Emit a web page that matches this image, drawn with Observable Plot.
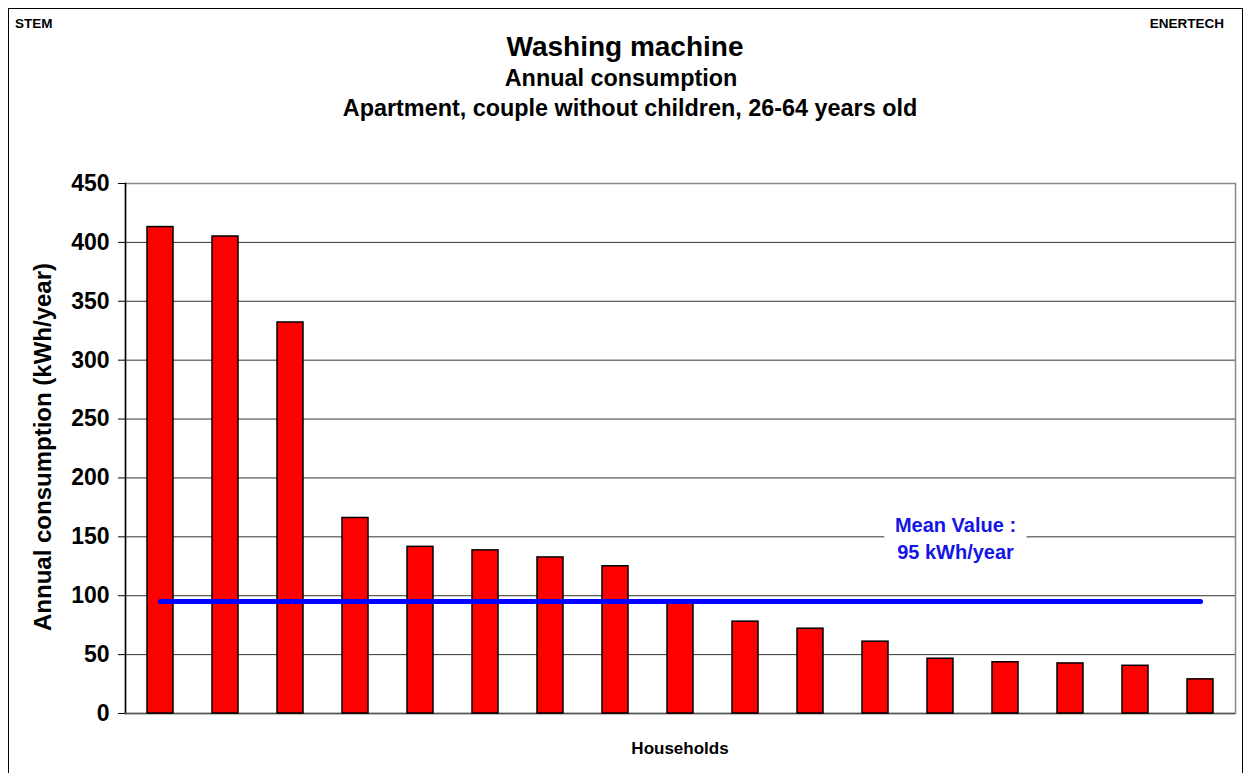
<!DOCTYPE html>
<html>
<head>
<meta charset="utf-8">
<script src="https://cdn.jsdelivr.net/npm/d3@7"></script>
<script src="https://cdn.jsdelivr.net/npm/@observablehq/plot@0.6"></script>
<style>
  html, body { margin: 0; padding: 0; background: #fff; }
  #wrap { position: relative; width: 1245px; height: 773px; overflow: hidden; font-family: "Liberation Sans", Arial, sans-serif; font-weight: bold; color: #000; }
  #outer { position: absolute; left: 8px; top: 8px; width: 1235px; height: 800px; border: 1.5px solid #000; box-sizing: border-box; }
  .t { position: absolute; white-space: nowrap; transform: translate(-50%, -50%); }
  #chart { position: absolute; left: 0; top: 0; }
</style>
</head>
<body>
<div id="wrap">
  <div id="outer"></div>
  <div id="chart"></div>
  <div class="t" style="left:15px; top:23px; transform:translate(0,-50%); font-size:13.5px;">STEM</div>
  <div class="t" style="left:1224px; top:23px; transform:translate(-100%,-50%); font-size:13.5px;">ENERTECH</div>
  <div class="t" style="left:625px; top:47px; font-size:28px;">Washing machine</div>
  <div class="t" style="left:621px; top:78px; font-size:23.4px;">Annual consumption</div>
  <div class="t" style="left:630px; top:108px; font-size:23.4px;">Apartment, couple without children, 26-64 years old</div>
  <div class="t" style="left:43px; top:447px; font-size:24px; transform:translate(-50%,-50%) rotate(-90deg);">Annual consumption (kWh/year)</div>
  <div class="t" style="left:680px; top:749px; font-size:17px;">Households</div>
</div>
<script>
const households = ["1","2","3","4","5","6","7","8","9","10","11","12","13","14","15","16","17"];
const consumption = [413, 405, 332, 166, 141.5, 138.5, 132.5, 125, 96, 78, 72, 61, 46.5, 43.5, 42.5, 40.5, 29];
const yTicks = [0, 50, 100, 150, 200, 250, 300, 350, 400, 450];
const meanValue = 95;
const meanLabel = "Mean Value :\n95 kWh/year";
const labelHousehold = "13";
const labelLevel = 150;

const data = households.map((h, i) => ({household: h, kwh: consumption[i]}));

const labelOpts = {x: () => labelHousehold, y: () => labelLevel, text: d => d, dx: 15, fontSize: 20, fontWeight: "bold", lineHeight: 1.35};

const chart = Plot.plot({
  width: 1245,
  height: 773,
  marginLeft: 125,
  marginRight: 10,
  marginTop: 183,
  marginBottom: 60,
  style: {fontFamily: "'Liberation Sans', Arial, sans-serif", background: "transparent", overflow: "visible"},
  x: {domain: households, paddingInner: 0.6, paddingOuter: 0.3, axis: null},
  y: {domain: [0, 450], ticks: yTicks},
  marks: [
    Plot.gridY(yTicks, {stroke: "#000", strokeOpacity: 0.8, strokeWidth: 1}),
    Plot.frame({stroke: "#888", strokeWidth: 1.5}),
    Plot.frame({anchor: "left", stroke: "#000", strokeWidth: 1.5}),
    Plot.ruleY([0], {stroke: "#555", strokeWidth: 1.5}),
    Plot.axisY(yTicks, {tickSize: 7, tickPadding: 9, fontSize: 23, fontWeight: "bold", label: null, stroke: "#000", strokeWidth: 1}),
    Plot.barY(data, {x: "household", y: "kwh", fill: "#ff0000", stroke: "#000", strokeWidth: 1.5}),
    Plot.lineY(data, {x: "household", y: () => meanValue, stroke: "#0000ff", strokeWidth: 5, strokeLinecap: "round"}),
    Plot.text([meanLabel], {...labelOpts, fill: "#fff", stroke: "#fff", strokeWidth: 26, strokeLinejoin: "round"}),
    Plot.text([meanLabel], {...labelOpts, fill: "#1414e6"})
  ]
});
document.getElementById("chart").appendChild(chart);
</script>
</body>
</html>
